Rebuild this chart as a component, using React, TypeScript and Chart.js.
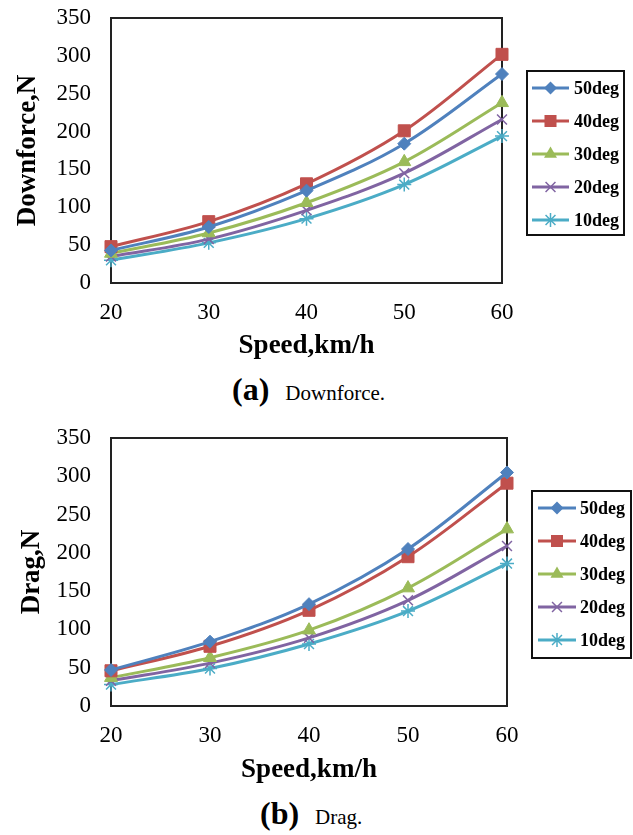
import React, { useEffect, useRef } from 'react';
import { Chart, registerables } from 'chart.js';
Chart.register(...registerables);

const speeds = ['20', '30', '40', '50', '60'];
const seriesNames = ['50deg', '40deg', '30deg', '20deg', '10deg'];
const seriesColors = ['#4F81BD', '#C0504D', '#9BBB59', '#8064A2', '#4BACC6'];
const seriesMarkers = ['rectRot', 'rect', 'triangle', 'crossRot', 'star'];
const markerSizes = [6.5, 8.5, 7.5, 7, 7];

const downforce50 = [43, 74, 122, 184, 276];
const downforce40 = [48, 81, 131, 201, 302];
const downforce30 = [39, 66, 106, 160, 238];
const downforce20 = [35, 58, 96, 145, 216];
const downforce10 = [30, 53, 85, 130, 194];

const drag50 = [47, 84, 133, 205, 305];
const drag40 = [46, 78, 125, 195, 291];
const drag30 = [37, 63, 99, 154, 231];
const drag20 = [33, 56, 89, 138, 209];
const drag10 = [28, 49, 81, 124, 186];

const yMin = 0;
const yMax = 350;
const yStep = 50;

const FONT = "'Liberation Serif', 'Times New Roman', serif";
Chart.defaults.font.family = FONT;
Chart.defaults.color = '#000';

function drawMarker(ctx: CanvasRenderingContext2D, style: string, x: number, y: number, r: number, color: string) {
  ctx.save();
  ctx.fillStyle = color;
  ctx.strokeStyle = color;
  ctx.lineWidth = 1.5;
  ctx.beginPath();
  if (style === 'rect') {
    const s = Math.SQRT1_2 * r;
    ctx.rect(x - s, y - s, 2 * s, 2 * s);
    ctx.fill();
  } else if (style === 'rectRot') {
    ctx.moveTo(x, y - r);
    ctx.lineTo(x + r, y);
    ctx.lineTo(x, y + r);
    ctx.lineTo(x - r, y);
    ctx.closePath();
    ctx.fill();
  } else if (style === 'triangle') {
    for (let i = 0; i < 3; i++) {
      const a = (i * 2 * Math.PI) / 3;
      const px = x + Math.sin(a) * r;
      const py = y - Math.cos(a) * r;
      if (i === 0) ctx.moveTo(px, py);
      else ctx.lineTo(px, py);
    }
    ctx.closePath();
    ctx.fill();
  } else if (style === 'crossRot' || style === 'star') {
    const d = Math.SQRT1_2 * r;
    ctx.moveTo(x - d, y - d);
    ctx.lineTo(x + d, y + d);
    ctx.moveTo(x - d, y + d);
    ctx.lineTo(x + d, y - d);
    if (style === 'star') {
      ctx.moveTo(x, y - r);
      ctx.lineTo(x, y + r);
      ctx.moveTo(x - r, y);
      ctx.lineTo(x + r, y);
    }
    ctx.stroke();
  }
  ctx.restore();
}

function makeConfig(series: number[][], yTitle: string, opts: {
  rightPad: number; xHeight: number; titleBottomPad: number; titleLeftPad: number;
  legendWidth: number; legendHeight: number; legendLineStart: number; legendLineEnd: number; legendText: number;
}) {
  const framePlugin = {
    id: 'frame',
    beforeDatasetsDraw(chart: any) {
      const { ctx, chartArea } = chart;
      ctx.save();
      ctx.strokeStyle = '#222';
      ctx.lineWidth = 2;
      ctx.strokeRect(chartArea.left, chartArea.top, chartArea.right - chartArea.left, chartArea.bottom - chartArea.top);
      ctx.restore();
    },
  };
  const legendPlugin = {
    id: 'boxLegend',
    afterDraw(chart: any) {
      const { ctx, chartArea } = chart;
      const bx = chartArea.right + 25;
      const by = 71;
      ctx.save();
      ctx.strokeStyle = '#111';
      ctx.lineWidth = 2;
      ctx.strokeRect(bx, by, opts.legendWidth, opts.legendHeight);
      ctx.font = `bold 18px ${FONT}`;
      ctx.textBaseline = 'middle';
      ctx.textAlign = 'left';
      seriesNames.forEach((name, i) => {
        const cy = by + 17 + i * 33;
        ctx.strokeStyle = seriesColors[i];
        ctx.lineWidth = 3;
        ctx.beginPath();
        ctx.moveTo(bx + opts.legendLineStart, cy);
        ctx.lineTo(bx + opts.legendLineEnd, cy);
        ctx.stroke();
        drawMarker(ctx, seriesMarkers[i], bx + (opts.legendLineStart + opts.legendLineEnd) / 2, cy, markerSizes[i], seriesColors[i]);
        ctx.fillStyle = '#000';
        ctx.fillText(name, bx + opts.legendText, cy + 1);
      });
      ctx.restore();
    },
  };
  return {
    type: 'line' as const,
    data: {
      labels: speeds,
      datasets: series.map((vals, i) => ({
        label: seriesNames[i],
        data: vals,
        borderColor: seriesColors[i],
        backgroundColor: seriesColors[i],
        borderWidth: 3,
        tension: 0.35,
        pointStyle: seriesMarkers[i],
        pointRadius: markerSizes[i],
        pointBorderWidth: seriesMarkers[i] === 'crossRot' || seriesMarkers[i] === 'star' ? 1.5 : 1,
        pointBorderColor: seriesColors[i],
        pointBackgroundColor: seriesColors[i],
        clip: false,
        fill: false,
      })),
    },
    options: {
      responsive: false,
      animation: false,
      events: [],
      layout: { padding: { left: 0, right: opts.rightPad, top: 18, bottom: 0 } },
      plugins: { legend: { display: false }, tooltip: { enabled: false } },
      scales: {
        x: {
          type: 'category',
          offset: false,
          grid: { display: false, drawTicks: false },
          border: { display: false },
          ticks: { color: '#000', font: { family: FONT, size: 23 }, padding: 16, maxRotation: 0 },
          title: {
            display: true,
            text: 'Speed,km/h',
            color: '#000',
            font: { family: FONT, size: 27, weight: 'bold' },
            padding: { top: 0, bottom: opts.titleBottomPad },
          },
          afterFit: (s: any) => { s.height = opts.xHeight; },
        },
        y: {
          min: yMin,
          max: yMax,
          grid: { display: false, drawTicks: false },
          border: { display: false },
          ticks: { stepSize: yStep, color: '#000', font: { family: FONT, size: 23 }, padding: 20 },
          title: {
            display: true,
            text: yTitle,
            color: '#000',
            font: { family: FONT, size: 27, weight: 'bold' },
            padding: { top: opts.titleLeftPad, bottom: 0 },
          },
          afterFit: (s: any) => { s.width = 111; s.paddingTop = 0; s.paddingBottom = 0; },
        },
      },
    },
    plugins: [framePlugin, legendPlugin],
  };
}

function ChartCanvas({ config, width, height }: { config: any; width: number; height: number }) {
  const ref = useRef<HTMLCanvasElement | null>(null);
  useEffect(() => {
    if (!ref.current) return;
    const chart = new Chart(ref.current, config);
    return () => chart.destroy();
  }, [config]);
  return <canvas ref={ref} width={width} height={height} style={{ width, height, display: 'block' }} />;
}

const topConfig = makeConfig(
  [downforce50, downforce40, downforce30, downforce20, downforce10],
  'Downforce,N',
  { rightPad: 131, xHeight: 87, titleBottomPad: 8, titleLeftPad: 12, legendWidth: 97, legendHeight: 164, legendLineStart: 5, legendLineEnd: 42, legendText: 47 }
);
const bottomConfig = makeConfig(
  [drag50, drag40, drag30, drag20, drag10],
  'Drag,N',
  { rightPad: 126, xHeight: 89, titleBottomPad: 9, titleLeftPad: 16, legendWidth: 99, legendHeight: 167, legendLineStart: 6, legendLineEnd: 44, legendText: 48 }
);

export default function App() {
  return (
    <div style={{ position: 'absolute', left: 0, top: 0, width: 633, height: 835, background: '#fff', overflow: 'hidden' }}>
      <div style={{ position: 'absolute', left: 0, top: 0 }}>
        <ChartCanvas config={topConfig} width={633} height={370} />
      </div>
      <div style={{ position: 'absolute', left: 232, top: 373, display: 'flex', alignItems: 'baseline', fontFamily: FONT, color: '#000', lineHeight: 1, whiteSpace: 'nowrap' }}>
        <span style={{ fontWeight: 'bold', fontSize: 32 }}>(a)</span>
        <span style={{ fontSize: 21, marginLeft: 16 }}>Downforce.</span>
      </div>
      <div style={{ position: 'absolute', left: 0, top: 420 }}>
        <ChartCanvas config={bottomConfig} width={633} height={375} />
      </div>
      <div style={{ position: 'absolute', left: 260, top: 797, display: 'flex', alignItems: 'baseline', fontFamily: FONT, color: '#000', lineHeight: 1, whiteSpace: 'nowrap' }}>
        <span style={{ fontWeight: 'bold', fontSize: 32 }}>(b)</span>
        <span style={{ fontSize: 21, marginLeft: 16 }}>Drag.</span>
      </div>
    </div>
  );
}
